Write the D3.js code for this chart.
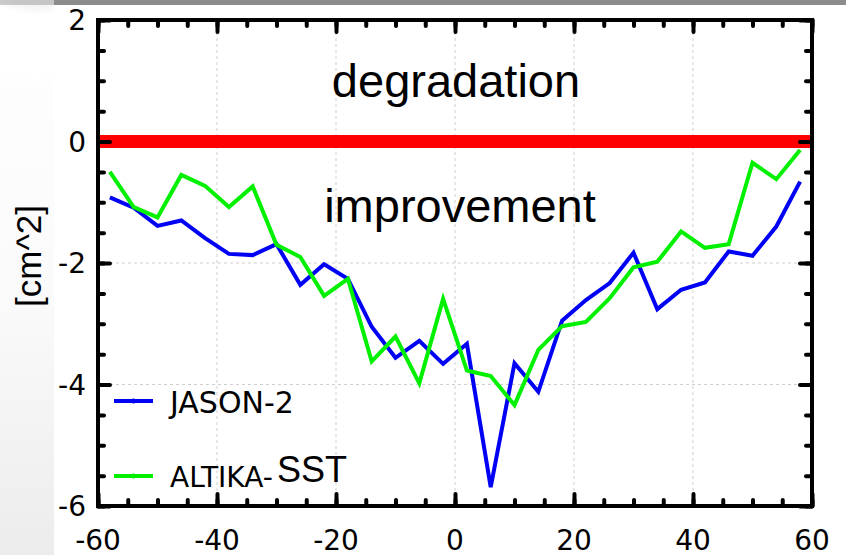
<!DOCTYPE html>
<html><head><meta charset="utf-8">
<script src="https://cdn.jsdelivr.net/npm/d3@7"></script>
<style>html,body{margin:0;padding:0;background:#fff;overflow:hidden}</style>
</head><body><svg id="c" width="846" height="555"></svg>
<script>
const latitudes = [-58,-54,-50,-46,-42,-38,-34,-30,-26,-22,-18,-14,-10,-6,-2,2,6,10,14,18,22,26,30,34,38,42,46,50,54,58];
const jason2 = [-0.92,-1.09,-1.39,-1.30,-1.59,-1.85,-1.87,-1.69,-2.36,-2.02,-2.26,-3.05,-3.56,-3.28,-3.66,-3.33,-5.69,-3.65,-4.12,-2.95,-2.61,-2.33,-1.83,-2.76,-2.44,-2.32,-1.81,-1.88,-1.40,-0.66];
const altikaSST = [-0.50,-1.08,-1.25,-0.55,-0.73,-1.08,-0.74,-1.70,-1.90,-2.54,-2.26,-3.62,-3.21,-3.98,-2.59,-3.77,-3.86,-4.34,-3.43,-3.04,-2.97,-2.58,-2.07,-1.98,-1.48,-1.75,-1.69,-0.35,-0.62,-0.14];
const xTicks = [-60,-40,-20,0,20,40,60];
const yTicks = [2,0,-2,-4,-6];
const xMinor = d3.range(-60,61,5);
const yMinor = d3.range(-6,2.01,0.5);

const svg = d3.select("#c");
// background
const defs = svg.append("defs");
const rg = defs.append("radialGradient").attr("id","rg").attr("cx","0.5").attr("cy","0").attr("r","0.6");
rg.append("stop").attr("offset","0").attr("stop-color","#8e8e8e");
rg.append("stop").attr("offset","1").attr("stop-color","#ffffff");
const lg = defs.append("linearGradient").attr("id","lg").attr("x1","0").attr("y1","0").attr("x2","0").attr("y2","1");
lg.append("stop").attr("offset","0").attr("stop-color","#fff");
lg.append("stop").attr("offset","0.55").attr("stop-color","#fafafa");
lg.append("stop").attr("offset","1").attr("stop-color","#ececec");
svg.append("rect").attr("x",0).attr("y",0).attr("width",54).attr("height",555).attr("fill","url(#lg)");
svg.append("ellipse").attr("cx",35).attr("cy",0).attr("rx",70).attr("ry",80).attr("fill","url(#rg)").attr("opacity",0.9);
svg.append("rect").attr("x",54).attr("y",5).attr("width",792).attr("height",550).attr("fill","#fff");
svg.append("rect").attr("x",54).attr("y",0).attr("width",792).attr("height",5).attr("fill","#8c8c8c");
svg.append("rect").attr("x",0).attr("y",0).attr("width",54).attr("height",5).attr("fill","#9a9a9a").attr("opacity",0.5);

const L=98,R=812,T=20,B=506;
const x = d3.scaleLinear().domain([-60,60]).range([L,R]);
const y = d3.scaleLinear().domain([-6,2]).range([B,T]);

// grid
const grid = svg.append("g").attr("stroke","#cfcfcf").attr("stroke-width",1).attr("stroke-dasharray","3,3");
xTicks.slice(1,-1).forEach(v=>grid.append("line").attr("x1",x(v)).attr("x2",x(v)).attr("y1",T).attr("y2",B));
yTicks.slice(1,-1).forEach(v=>grid.append("line").attr("x1",L).attr("x2",R).attr("y1",y(v)).attr("y2",y(v)));

// texts
svg.append("text").attr("x",456).attr("y",97).attr("text-anchor","middle")
  .attr("font-family","Liberation Sans, Arial, sans-serif").attr("font-size",47).text("degradation");
svg.append("text").attr("x",460).attr("y",222).attr("text-anchor","middle")
  .attr("font-family","Liberation Sans, Arial, sans-serif").attr("font-size",47).text("improvement");

// series
const line = d3.line().x((d,i)=>x(latitudes[i])).y(d=>y(d));
const series = [{v:jason2,c:"#0000f5"},{v:altikaSST,c:"#00f000"}];
series.forEach(s=>{
  svg.append("path").attr("d",line(s.v)).attr("fill","none").attr("stroke",s.c).attr("stroke-width",4).attr("stroke-linejoin","miter");
});

// zero line
svg.append("line").attr("x1",L).attr("x2",R).attr("y1",y(0)).attr("y2",y(0)).attr("stroke","#ff0000").attr("stroke-width",13);

// axes (inward ticks)
function styleAxis(g){g.select(".domain").remove();g.selectAll(".tick line").attr("stroke","#000").attr("stroke-width",4).attr("stroke-linecap","round");}
const fmt = d=>d3.format("d")(d).replace("−","-");
svg.append("g").attr("transform",`translate(0,${B})`).call(d3.axisBottom(x).tickValues(xMinor).tickSize(-6).tickFormat("")).call(styleAxis);
svg.append("g").attr("transform",`translate(0,${B})`).call(d3.axisBottom(x).tickValues(xTicks).tickSize(-12).tickFormat("")).call(styleAxis);
svg.append("g").attr("transform",`translate(0,${T})`).call(d3.axisTop(x).tickValues(xMinor).tickSize(-6).tickFormat("")).call(styleAxis);
svg.append("g").attr("transform",`translate(0,${T})`).call(d3.axisTop(x).tickValues(xTicks).tickSize(-12).tickFormat("")).call(styleAxis);
svg.append("g").attr("transform",`translate(${L},0)`).call(d3.axisLeft(y).tickValues(yMinor).tickSize(-6).tickFormat("")).call(styleAxis);
svg.append("g").attr("transform",`translate(${L},0)`).call(d3.axisLeft(y).tickValues(yTicks).tickSize(-12).tickFormat("")).call(styleAxis);
svg.append("g").attr("transform",`translate(${R},0)`).call(d3.axisRight(y).tickValues(yMinor).tickSize(-6).tickFormat("")).call(styleAxis);
svg.append("g").attr("transform",`translate(${R},0)`).call(d3.axisRight(y).tickValues(yTicks).tickSize(-12).tickFormat("")).call(styleAxis);

svg.append("rect").attr("x",L).attr("y",T).attr("width",R-L).attr("height",B-T).attr("fill","none").attr("stroke","#000").attr("stroke-width",4);

// tick labels
const tl = svg.append("g").attr("font-family","DejaVu Sans, sans-serif").attr("font-size",28).attr("fill","#000");
xTicks.forEach(v=>tl.append("text").attr("x",x(v)).attr("y",550).attr("text-anchor","middle").text(fmt(v)));
yTicks.forEach(v=>tl.append("text").attr("x",86).attr("y",y(v)+10).attr("text-anchor","end").text(fmt(v)));

// y label
svg.append("text").attr("transform","translate(41,256) rotate(-90)").attr("text-anchor","middle")
  .attr("font-family","Liberation Sans, Arial, sans-serif").attr("font-size",35).text("[cm^2]");

// legend
const legend = [{name:"JASON-2",c:"#0000f5",y:401},{name:"ALTIKA-",c:"#00f000",y:476}];
legend.forEach(l=>{
  svg.append("line").attr("x1",114).attr("x2",153).attr("y1",l.y).attr("y2",l.y).attr("stroke",l.c).attr("stroke-width",4);
  svg.append("circle").attr("cx",133.5).attr("cy",l.y).attr("r",2.5).attr("fill",l.c);
});
svg.append("text").attr("x",170).attr("y",413).attr("font-family","DejaVu Sans, sans-serif").attr("font-size",30).text("JASON-2");
const t2 = svg.append("text").attr("x",170).attr("y",487).attr("font-family","DejaVu Sans, sans-serif").attr("font-size",28).text("ALTIKA-");
svg.append("text").attr("x",277).attr("y",482).attr("font-family","Liberation Sans, Arial, sans-serif").attr("font-size",36).text("SST");
</script></body></html>
